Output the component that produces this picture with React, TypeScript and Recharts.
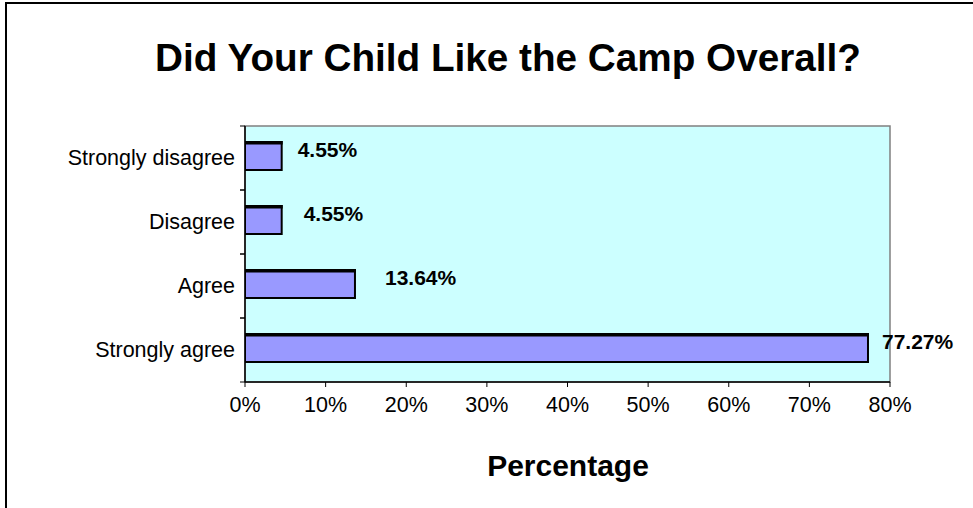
import React from 'react'
import { BarChart, Bar, XAxis, YAxis, ReferenceArea, LabelList } from 'recharts'

const CATEGORIES = ['Strongly disagree', 'Disagree', 'Agree', 'Strongly agree']
const VALUES = [4.55, 4.55, 13.64, 77.27]
const X_TICKS = [0, 10, 20, 30, 40, 50, 60, 70, 80]

// label offsets from bar end (hand placed in the original)
const LABEL_DX = [16, 22, 30, 14]
// bars sit slightly above the band centre in the original
const BAR_SHIFT = -2

const FONT = '"Liberation Sans", Arial, sans-serif'

const data = CATEGORIES.map((name, i) => ({ name, value: VALUES[i] }))

function BarShape(props: any) {
  const { x, width, height } = props
  const y = props.y + BAR_SHIFT
  if (!width || width <= 0) return null
  return (
    <g>
      <rect x={x} y={y} width={width} height={height} fill="#9999FF" stroke="#000" strokeWidth={2} />
      <rect x={x - 1} y={y - 1} width={width + 2} height={3.5} fill="#000" />
    </g>
  )
}

function CategoryTick(props: any) {
  const { x, y, payload } = props
  const half = payload && payload.offset ? payload.offset : 32
  return (
    <g>
      <line x1={x - 5} x2={x} y1={y - half} y2={y - half} stroke="#000" strokeWidth={1} />
      <line x1={x - 5} x2={x} y1={y + half} y2={y + half} stroke="#000" strokeWidth={1} />
      <text x={x - 10} y={y} textAnchor="end" dominantBaseline="central" fontSize={21.5} fontFamily={FONT} fill="#000">
        {payload.value}
      </text>
    </g>
  )
}

function ValueLabel(props: any) {
  const { x, y, width, height, value, index } = props
  return (
    <text
      x={x + width + LABEL_DX[index]}
      y={y + BAR_SHIFT + height / 2 + 1}
      fontSize={21}
      fontWeight="bold"
      fontFamily={FONT}
      fill="#000"
    >
      {value.toFixed(2)}%
    </text>
  )
}

export default function App() {
  return (
    <div style={{ position: 'absolute', left: 0, top: 0, width: 973, height: 508, background: '#fff', overflow: 'hidden', fontFamily: FONT }}>
      <div style={{ position: 'absolute', left: 5, top: 2, width: 980, height: 520, borderTop: '2px solid #000', borderLeft: '2px solid #000' }} />
      <div style={{ position: 'absolute', left: 0, width: 1016, top: 38.5, textAlign: 'center', fontSize: 38.7, fontWeight: 'bold', lineHeight: 1, color: '#000' }}>
        Did Your Child Like the Camp Overall?
      </div>
      <div style={{ position: 'absolute', left: 0, width: 1136, top: 450.6, textAlign: 'center', fontSize: 30, fontWeight: 'bold', lineHeight: 1, color: '#000' }}>
        Percentage
      </div>
      <div style={{ position: 'absolute', left: 0, top: 0 }}>
        <BarChart
          width={973}
          height={508}
          data={data}
          layout="vertical"
          margin={{ top: 126, right: 83, bottom: 86, left: 5 }}
          barSize={28}
        >
          <ReferenceArea x1={0} x2={80} fill="#CCFFFF" fillOpacity={1} stroke="#808080" strokeWidth={1.5} />
          <XAxis
            type="number"
            domain={[0, 80]}
            ticks={X_TICKS}
            tickFormatter={(v) => `${v}%`}
            height={40}
            tickSize={5}
            tickMargin={10}
            axisLine={{ stroke: '#000', strokeWidth: 1.5 }}
            tickLine={{ stroke: '#000' }}
            tick={{ fontSize: 21.5, fontFamily: FONT, fill: '#000' }}
            allowDataOverflow
          />
          <YAxis
            type="category"
            dataKey="name"
            width={240}
            tickSize={0}
            tickMargin={0}
            tickLine={false}
            axisLine={{ stroke: '#000', strokeWidth: 1.5 }}
            tick={<CategoryTick />}
          />
          <Bar dataKey="value" shape={<BarShape />} isAnimationActive={false}>
            <LabelList dataKey="value" content={<ValueLabel />} />
          </Bar>
        </BarChart>
      </div>
    </div>
  )
}
